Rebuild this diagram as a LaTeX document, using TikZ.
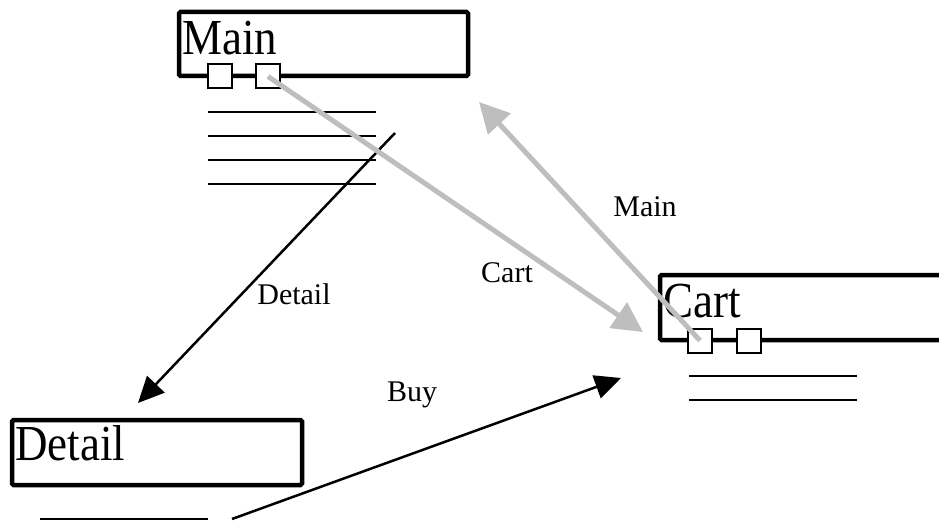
\documentclass[tikz,border=0pt]{standalone}
\usepackage{fontspec}
\setmainfont{Liberation Serif}
\usetikzlibrary{arrows.meta}
\definecolor{linkgray}{RGB}{190,190,190}
\tikzset{
  page/.style={draw=black, line width=4.5pt, rounded corners=1.5pt, inner sep=0pt, outer sep=0pt},
  pagetitle/.style={anchor=base west, inner sep=0pt, font=\fontsize{45}{50}\selectfont},
  port/.style={draw=black, fill=white, line width=2pt, minimum size=24pt, inner sep=0pt, outer sep=0pt},
  rule/.style={line width=2.6pt},
  navlink/.style={line width=2.5pt, -{Triangle[length=26pt,width=24pt]}},
  graylink/.style={linkgray, line width=5pt, -{Triangle[length=30pt,width=30pt]}},
  linklabel/.style={anchor=base, inner sep=0pt, font=\fontsize{30}{34}\selectfont}
}
\begin{document}
\begin{tikzpicture}[x=1pt,y=-1pt]
\useasboundingbox (0,0) rectangle (939,521);
\clip (0,0) rectangle (939,521);

% Main page
\node[page, minimum width=289pt, minimum height=64pt] (mainbox) at (323.5,44) {};
\node[pagetitle] (maintitle) at (182,55) {\scalebox{1}[1.12]{Main}};
\foreach \y [count=\i] in {112,136,160,184}
  \draw[rule] (208,\y) coordinate (ml\i) -- (376,\y) coordinate (mr\i);
\node[port] (mainportA) at (219.5,76.5) {};
\node[port] (mainportB) at (268,76.5) {};

% Cart page (runs past the right edge)
\node[page, minimum width=360pt, minimum height=65pt] (cartbox) at (840,307.5) {};
\node[pagetitle] (carttitle) at (663,317) {\scalebox{1}[1.12]{Cart}};
\foreach \y [count=\i] in {376,400}
  \draw[rule] (689,\y) coordinate (cl\i) -- (857,\y) coordinate (cr\i);
\node[port] (cartportA) at (700,340.5) {};
\node[port] (cartportB) at (748.5,340.5) {};

% Detail page
\node[page, minimum width=290pt, minimum height=65pt] (detailbox) at (157,452.5) {};
\node[pagetitle] (detailtitle) at (15,460) {\scalebox{1}[1.12]{Detail}};
\draw[rule] (40,519) coordinate (dl1) -- (208,519) coordinate (dr1);

% Black navigation links
\coordinate (detailfrom) at (395,133);
\coordinate (detailto) at (138,403);
\coordinate (buyfrom) at (232,519);
\coordinate (buyto) at (621,378);
\draw[navlink] (detailfrom) -- (detailto);
\draw[navlink] (buyfrom) -- (buyto);

% Gray links between the ports
\coordinate (cartto) at (643,332);
\coordinate (mainto) at (479,102);
\draw[graylink] (mainportB.center) -- (cartto);
\draw[graylink] (cartportA.center) -- (mainto);

% Link labels
\node[linklabel] (lbldetail) at (294,304) {Detail};
\node[linklabel] (lblcart) at (507,282) {Cart};
\node[linklabel] (lblmain) at (645,217) {Main};
\node[linklabel] (lblbuy) at (412,401) {Buy};
\end{tikzpicture}
\end{document}
